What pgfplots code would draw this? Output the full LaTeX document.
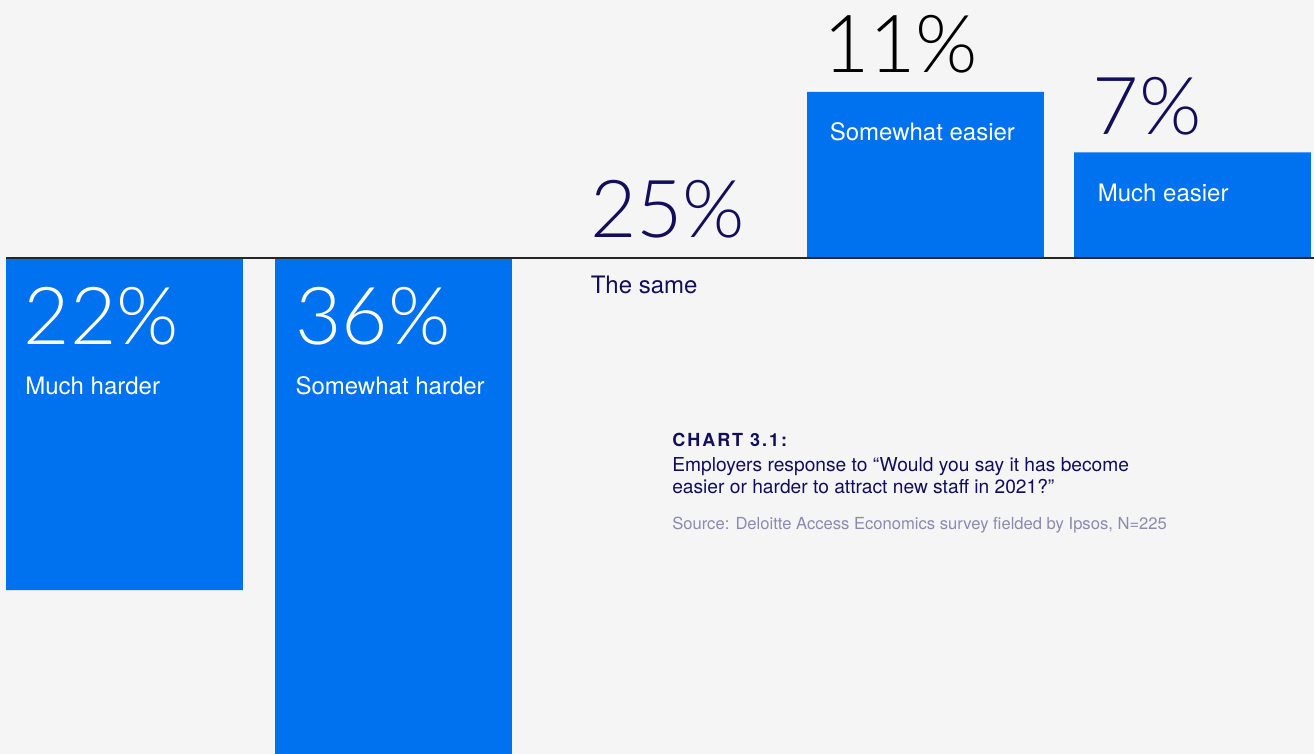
\documentclass[border=0pt]{standalone}
\usepackage{fontspec}
\setmainfont{TeX Gyre Heros}
\IfFontExistsTF{Lato Light}{\newfontfamily\lightfont{Lato Light}}{%
  \IfFontExistsTF{Fira Sans Light}{\newfontfamily\lightfont{Fira Sans Light}}{%
    \IfFontExistsTF{Open Sans Light}{\newfontfamily\lightfont{Open Sans Light}}{%
      \newfontfamily\lightfont{TeX Gyre Heros}}}}
\usepackage{pgfplots}
\pgfplotsset{compat=1.18}

\definecolor{bgcol}{RGB}{245,245,245}
\definecolor{barblue}{RGB}{0,114,240}
\definecolor{navy}{RGB}{18,14,92}
\definecolor{srcgray}{RGB}{138,138,178}

\newcommand{\bignum}{\lightfont\fontsize{40}{40}\selectfont}
\newcommand{\lbl}{\fontsize{12}{14}\selectfont}

\begin{document}
\begin{tikzpicture}
\fill[bgcol] (0,0) rectangle (657pt,377pt);
\begin{axis}[
at={(0,0)}, anchor=south west,
scale only axis,
width=657pt, height=377pt,
hide axis,
xmin=-0.4663, xmax=4.4551,
ymin=-32.85, ymax=17.09,
ybar, bar width=0.8876, bar shift=0pt,
]
% Much harder, Somewhat harder, (The same: no bar), Somewhat easier, Much easier
\addplot[fill=barblue, draw=none] coordinates {
(0,-22) (1.0075,-36) (3,11) (4,7)
};
\draw[black!85, line width=0.6pt] (axis cs:-0.4438,0) -- (axis cs:4.4551,0);

% values and categories
\node[anchor=base west, inner sep=0, white] at (axis cs:-0.378,-5.76) {\bignum 22\%};
\node[anchor=base west, inner sep=0, white] at (axis cs:-0.373,-9.01) {\lbl Much harder};
\node[anchor=base west, inner sep=0, white] at (axis cs:0.638,-5.76) {\bignum 36\%};
\node[anchor=base west, inner sep=0, white] at (axis cs:0.639,-9.01) {\lbl Somewhat harder};
\node[anchor=base west, inner sep=0, navy] at (axis cs:1.742,1.39) {\bignum 25\%};
\node[anchor=base west, inner sep=0, navy] at (axis cs:1.745,-2.32) {\lbl The same};
\node[anchor=base west, inner sep=0, black] at (axis cs:2.615,12.28) {\bignum 11\%};
\node[anchor=base west, inner sep=0, white] at (axis cs:2.640,7.81) {\lbl Somewhat easier};
\node[anchor=base west, inner sep=0, navy] at (axis cs:3.625,8.15) {\bignum 7\%};
\node[anchor=base west, inner sep=0, white] at (axis cs:3.644,3.74) {\lbl Much easier};

% caption
\node[anchor=base west, inner sep=0, navy] at (axis cs:2.050,-12.50)
  {\fontsize{9}{11}\selectfont\bfseries\addfontfeature{LetterSpace=11}CHART 3.1:};
\node[anchor=base west, inner sep=0, navy] at (axis cs:2.050,-14.15)
  {\fontsize{9.6}{11}\selectfont Employers response to “Would you say it has become};
\node[anchor=base west, inner sep=0, navy] at (axis cs:2.050,-15.63)
  {\fontsize{9.6}{11}\selectfont easier or harder to attract new staff in 2021?”};
\node[anchor=base west, inner sep=0, srcgray] at (axis cs:2.050,-18.01)
  {\fontsize{8.3}{10}\selectfont Source: Deloitte Access Economics survey fielded by Ipsos, N=225};
\end{axis}
\pgfresetboundingbox
\path[use as bounding box] (0,0) rectangle (657pt,377pt);
\end{tikzpicture}
\end{document}
